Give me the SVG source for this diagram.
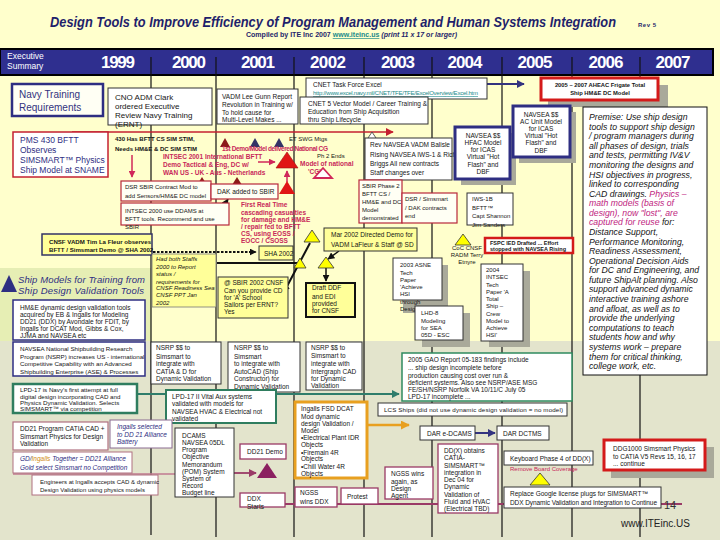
<svg xmlns="http://www.w3.org/2000/svg" width="720" height="540" viewBox="0 0 720 540">
<defs>
<style>
text{font-family:"Liberation Sans",Arial,Helvetica,sans-serif;font-size:6.5px;fill:#151515}
.b{fill:#fff;stroke:#333;stroke-width:1}
.nv{fill:#fff;stroke:#2E2E82;stroke-width:3}
.nv1{fill:#fff;stroke:#2E2E82;stroke-width:1.5}
.rd{fill:#FFFFF4;stroke:#B8283A;stroke-width:1.2}
.rt{fill:#fff;stroke:#D41A1A;stroke-width:3}
.yl{fill:#FFFF99;stroke:#333;stroke-width:1}
.gr{fill:#fff;stroke:#2F7D5F;stroke-width:2}
.mr{fill:#fff;stroke:#9A3A66;stroke-width:1.3}
.sh{fill:#A9A99A}
.pk{fill:#C8285A;font-weight:bold}
.ty{fill:#FFFF00;stroke:#333;stroke-width:0.8}
.yr{font-size:17px;font-weight:bold;fill:#fff;text-anchor:middle}
.dv{stroke:#111;stroke-width:1.2}
.it{font-style:italic}
.nvt{fill:#2E2E82}
</style>
<marker id="ak" viewBox="0 0 10 10" refX="9" refY="5" markerWidth="7" markerHeight="7" markerUnits="userSpaceOnUse" orient="auto-start-reverse"><path d="M0,0 L10,5 L0,10 z" fill="#111"/></marker>
<marker id="an" viewBox="0 0 10 10" refX="9" refY="5" markerWidth="8" markerHeight="8" markerUnits="userSpaceOnUse" orient="auto"><path d="M0,0 L10,5 L0,10 z" fill="#333380"/></marker>
<marker id="ar" viewBox="0 0 10 10" refX="9" refY="5" markerWidth="8" markerHeight="8" markerUnits="userSpaceOnUse" orient="auto"><path d="M0,0 L10,5 L0,10 z" fill="#C42030"/></marker>
<marker id="ap" viewBox="0 0 10 10" refX="9" refY="5" markerWidth="7" markerHeight="7" markerUnits="userSpaceOnUse" orient="auto"><path d="M0,0 L10,5 L0,10 z" fill="#D0285A"/></marker>
<marker id="at" viewBox="0 0 10 10" refX="9" refY="5" markerWidth="8" markerHeight="8" markerUnits="userSpaceOnUse" orient="auto"><path d="M0,0 L10,5 L0,10 z" fill="#2F7D6B"/></marker>
<marker id="ao" viewBox="0 0 10 10" refX="9" refY="5" markerWidth="9" markerHeight="9" markerUnits="userSpaceOnUse" orient="auto"><path d="M0,0 L10,5 L0,10 z" fill="#E8A020"/></marker>
<marker id="am" viewBox="0 0 10 10" refX="9" refY="5" markerWidth="8" markerHeight="8" markerUnits="userSpaceOnUse" orient="auto"><path d="M0,0 L10,5 L0,10 z" fill="#9A3A66"/></marker>
</defs>

<!-- background -->
<rect width="720" height="540" fill="#FFFFCC"/>
<rect y="341" width="720" height="199" fill="#E3E4CC"/>
<rect y="268" width="151" height="73" fill="#E6EEB4"/>

<!-- title -->
<g id="title">
<text x="50" y="27" textLength="566" lengthAdjust="spacingAndGlyphs" style="fill:#1F1F6B;font-size:14px;font-weight:bold;font-style:italic">Design Tools to Improve Efficiency of Program Management and Human Systems Integration</text>
<text x="638" y="27" style="font-size:6px;font-weight:bold;fill:#1F1F6B" textLength="18">Rev 5</text>
<text x="246" y="37" style="font-size:6.8px;font-weight:bold;fill:#1F1F6B" textLength="211" lengthAdjust="spacingAndGlyphs">Compiled by ITE Inc 2007 <tspan fill="#1A8A8A" text-decoration="underline">www.iteinc.us</tspan><tspan font-style="italic"> (print 11 x 17 or larger)</tspan></text>
</g>

<!-- header bar -->
<g id="header">
<rect x="0" y="49" width="713" height="26" fill="#2F2F8F" stroke="#000" stroke-width="2"/>
<text x="7" y="59" style="font-size:8.5px;fill:#fff">Executive</text>
<text x="7" y="69" style="font-size:8.5px;fill:#fff">Summary</text>
<text class="yr" x="118" y="68" textLength="34">1999</text>
<text class="yr" x="189" y="68" textLength="34">2000</text>
<text class="yr" x="258" y="68" textLength="34">2001</text>
<text class="yr" x="328" y="68" textLength="36">2002</text>
<text class="yr" x="398" y="68" textLength="34">2003</text>
<text class="yr" x="465" y="68" textLength="35">2004</text>
<text class="yr" x="535" y="68" textLength="35">2005</text>
<text class="yr" x="606" y="68" textLength="35">2006</text>
<text class="yr" x="673" y="68" textLength="35">2007</text>
</g>

<!-- year dividers -->
<g id="dividers" class="dv">
<line x1="151" y1="57" x2="151" y2="535"/>
<line x1="216" y1="57" x2="216" y2="537"/>
<line x1="294" y1="57" x2="294" y2="537"/>
<line x1="364" y1="57" x2="364" y2="537"/>
<line x1="432" y1="57" x2="432" y2="537"/>
<line x1="502" y1="57" x2="502" y2="537"/>
<line x1="572" y1="57" x2="572" y2="537"/>
<line x1="640" y1="57" x2="640" y2="537"/>
</g>

<!-- connectors -->
<g id="connectors" fill="none">
<path d="M487,84 H524" stroke="#333380" stroke-width="2" marker-end="url(#an)"/>
<path d="M72,132 H393" stroke="#C42030" stroke-width="1.5" marker-end="url(#ar)"/>
<path d="M132,155 V177" stroke="#D0285A" stroke-width="1.5" marker-end="url(#ap)"/>
<path d="M258,162 H275" stroke="#D0285A" stroke-width="1.5" marker-end="url(#ap)"/>
<path d="M287,182 V171" stroke="#D0285A" stroke-width="1.5" marker-end="url(#ap)"/>
<path d="M219,214 L228,199" stroke="#111" stroke-width="1.5" marker-start="url(#ak)" marker-end="url(#ak)"/>
<path d="M153,252 H256" stroke="#111" stroke-width="2" stroke-dasharray="2.5 1.5" marker-end="url(#ak)"/>
<path d="M217,263 H297" stroke="#111" stroke-width="2"/>
<path d="M310,243 L284,292" stroke="#111" stroke-width="2" marker-end="url(#ak)"/>
<path d="M339,251 L328,259" stroke="#111" stroke-width="1.5" marker-end="url(#ak)"/>
<path d="M326,268 V281" stroke="#111" stroke-width="1.5" marker-end="url(#ak)"/>
<path d="M137,394 H399" stroke="#2F7D6B" stroke-width="2" marker-end="url(#at)"/>
<path d="M13,474 H175" stroke="#C07A90" stroke-width="1.5"/>
<path d="M234,473 H256" stroke="#9A3A66" stroke-width="1.8" marker-end="url(#am)"/>
<path d="M285,504 H682" stroke="#9A3A66" stroke-width="2"/>
<path d="M367,425 H409" stroke="#E8A020" stroke-width="2.5" marker-end="url(#ao)"/>
<path d="M475,433 H495" stroke="#333380" stroke-width="2" marker-end="url(#an)"/>
</g>

<!-- milestone triangles -->
<g id="milestones">
<path d="M225,138 L220,147 L230,147 Z" fill="#8B1A1A"/>
<path d="M255,138 L250,147 L260,147 Z" fill="#333366"/>
<path d="M279,138 L274,147 L284,147 Z" fill="#333366"/>
<path d="M287,152 L276,168 L298,168 Z" fill="#E01515" stroke="#A01010" stroke-width="0.6"/>
<path d="M287,181 L279,194 L295,194 Z" fill="#E01515"/>
<path d="M323,168 L314,178 L332,178 Z" fill="#fff" stroke="#D0285A" stroke-width="1.8"/>
<path d="M372,132 L366,141 L378,141 Z" fill="#fff" stroke="#333" stroke-width="0.8"/>
<path d="M202,177 L197,185 L207,185 Z" fill="#8B1A1A"/>
<path d="M237,177 L232,185 L242,185 Z" fill="#8B1A1A"/>
<path class="ty" d="M312,230 L304,242 L320,242 Z"/>
<path class="ty" d="M300,258 L294,268 L306,268 Z"/>
<path class="ty" d="M326,257 L318,268 L334,268 Z"/>
<path class="ty" d="M463,234 L455,245 L471,245 Z"/>
<path class="ty" d="M540,473 L530,485 L550,485 Z"/>
<path d="M267,463 L257,478 L277,478 Z" fill="#8B2060"/>
<path d="M9,275 L1,292 L17,292 Z" fill="#2E2E82"/>
</g>

<g id="n-navy-training">
<rect x="12" y="84" width="91" height="32" fill="#FFFFF4" stroke="#2E2E82" stroke-width="2.5"/>
<text x="19" y="98" style="font-size:10px;fill:#333380">Navy Training</text>
<text x="19" y="111" style="font-size:10px;fill:#333380">Requirements</text>
</g>

<g id="n-cno">
<rect class="b" x="108" y="88" width="104" height="37"/>
<text x="115" y="100" style="font-size:8px">CNO ADM Clark</text>
<text x="115" y="109" style="font-size:8px">ordered Executive</text>
<text x="115" y="118" style="font-size:8px">Review Navy Training</text>
<text x="115" y="127" style="font-size:8px">(ERNT)</text>
</g>

<g id="n-gunn">
<rect class="b" x="217" y="89" width="81" height="35"/>
<text x="222" y="99">VADM Lee Gunn Report</text>
<text x="222" y="107">Revolution in Training w/</text>
<text x="222" y="115">To hold cause for</text>
<text x="222" y="122">Multi-Level Makes ...</text>
</g>

<g id="n-cnet-tfe">
<rect class="b" x="306" y="78" width="181" height="21"/>
<text x="313" y="87">CNET  Task Force Excel</text>
<text x="313" y="95" style="fill:#1A8A8A;font-size:6px" text-decoration="underline" textLength="165">http://www.excel.navy.mil/CNET/TFE/TFE/ExcelOverview/Excel.htm</text>
</g>

<g id="n-cnet-5v">
<rect class="b" x="300" y="97" width="128" height="27"/>
<text x="308" y="106">CNET 5 Vector Model / Career Training &amp;</text>
<text x="308" y="114">Education from Ship Acquisition</text>
<text x="308" y="122">thru Ship Lifecycle</text>
</g>

<g id="n-aheac">
<rect class="sh" x="548" y="85" width="120" height="22"/>
<rect class="rt" x="541" y="78" width="117" height="22"/>
<text x="600" y="87" text-anchor="middle" style="font-size:5.8px;font-weight:bold">2005 – 2007 AHEAC Frigate Total</text>
<text x="600" y="95" text-anchor="middle" style="font-size:5.8px;font-weight:bold">Ship HM&amp;E DC Model</text>
</g>

<g id="n-pms430">
<rect x="13" y="132" width="95" height="45" fill="#fff" stroke="#C42030" stroke-width="1.5"/>
<text x="20" y="143" style="font-size:8.5px;fill:#2E2E82">PMS 430 BFTT</text>
<text x="20" y="153" style="font-size:8.5px;fill:#2E2E82">Observes</text>
<text x="20" y="163" style="font-size:8.5px;fill:#2E2E82">SIMSMART™ Physics</text>
<text x="20" y="173" style="font-size:8.5px;fill:#2E2E82">Ship Model at SNAME</text>
</g>

<g id="n-430-notes">
<text x="115" y="141" style="font-size:6px;font-weight:bold">430 Has BFTT CS SIM STIM,</text>
<text x="115" y="151" style="font-size:6px;font-weight:bold">Needs HM&amp;E &amp; DC SIM STIM</text>
<text class="pk" x="163" y="159">INTSEC 2001 International BFTT</text>
<text class="pk" x="163" y="167">Demo Tactical &amp; Eng, DC w/</text>
<text class="pk" x="163" y="175">WAN US - UK - Aus - Netherlands</text>
</g>

<g id="n-demo-notes">
<text x="289" y="141" style="font-size:6px">ET SWG Mtgs</text>
<text class="pk" x="222" y="151" textLength="106">1st Demo/Model delivered National CG</text>
<text x="317" y="158" style="font-size:6px">Ph 2 Ends</text>
<text class="pk" x="300" y="166">Model of national</text>
<text class="pk" x="308" y="174">'CG'</text>
</g>

<g id="n-balisle">
<rect class="b" x="365" y="138" width="87" height="42"/>
<text x="370" y="147">Rev NAVSEA VADM Balisle</text>
<text x="370" y="157">Rising NAVSEA IWS-1 &amp; Rich</text>
<text x="370" y="166">Briggs All new contracts</text>
<text x="370" y="175">Staff changes over</text>
</g>

<g id="n-hfac">
<rect class="sh" x="461" y="133" width="55" height="52"/>
<rect class="nv" x="455" y="127" width="55" height="52"/>
<g text-anchor="middle">
<text x="483" y="138">NAVSEA $$</text>
<text x="483" y="145">HFAC Model</text>
<text x="483" y="152">for ICAS</text>
<text x="483" y="159">Virtual "Hot</text>
<text x="483" y="167">Flash" and</text>
<text x="483" y="174">DBF</text>
</g>
</g>

<g id="n-acunit">
<rect class="sh" x="519" y="112" width="57" height="51"/>
<rect class="nv" x="513" y="106" width="57" height="51"/>
<g text-anchor="middle">
<text x="541" y="117">NAVSEA $$</text>
<text x="541" y="124">AC Unit Model</text>
<text x="541" y="131">for ICAS</text>
<text x="541" y="138">Virtual "Hot</text>
<text x="541" y="145">Flash" and</text>
<text x="541" y="153">DBF</text>
</g>
</g>

<g id="n-premise">
<rect x="583" y="107" width="124" height="268" fill="#fff" stroke="#111" stroke-width="1"/>
<g class="it">
<text x="589" y="120" style="font-size:8.7px">Premise: Use ship design</text>
<text x="589" y="129.6" style="font-size:8.7px">tools to support ship design</text>
<text x="589" y="139.2" style="font-size:8.7px">/ program managers during</text>
<text x="589" y="148.7" style="font-size:8.7px">all phases of design, trials</text>
<text x="589" y="158.3" style="font-size:8.7px">and tests, permitting IV&amp;V</text>
<text x="589" y="167.9" style="font-size:8.7px">monitoring the designs and</text>
<text x="589" y="177.5" style="font-size:8.7px">HSI objectives in progress,</text>
<text x="589" y="187.1" style="font-size:8.7px">linked to corresponding</text>
<text x="589" y="196.6" style="font-size:8.7px">CAD drawings. <tspan fill="#C0247E">Physics –</tspan></text>
<text x="589" y="206.2" style="font-size:8.7px;fill:#C0247E">math models (basis of</text>
<text x="589" y="215.8" style="font-size:8.7px;fill:#C0247E">design), now "lost", are</text>
<text x="589" y="225.4" style="font-size:8.7px"><tspan fill="#C0247E">captured for reuse</tspan> for:</text>
<text x="589" y="235" style="font-size:8.7px">Distance Support,</text>
<text x="589" y="244.5" style="font-size:8.7px">Performance Monitoring,</text>
<text x="589" y="254.1" style="font-size:8.7px">Readiness Assessment,</text>
<text x="589" y="263.7" style="font-size:8.7px">Operational Decision Aids</text>
<text x="589" y="273.3" style="font-size:8.7px">for DC and Engineering, and</text>
<text x="589" y="282.9" style="font-size:8.7px">future ShipAlt planning. Also</text>
<text x="589" y="292.4" style="font-size:8.7px">support advanced dynamic</text>
<text x="589" y="302" style="font-size:8.7px">interactive training ashore</text>
<text x="589" y="311.6" style="font-size:8.7px">and afloat, as well as to</text>
<text x="589" y="321.2" style="font-size:8.7px">provide the underlying</text>
<text x="589" y="330.8" style="font-size:8.7px">computations to teach</text>
<text x="589" y="340.3" style="font-size:8.7px">students how and why</text>
<text x="589" y="349.9" style="font-size:8.7px">systems work – prepare</text>
<text x="589" y="359.5" style="font-size:8.7px">them for critical thinking,</text>
<text x="589" y="369.1" style="font-size:8.7px">college work, etc.</text>
</g>
</g>

<g id="n-dsr-sbir">
<rect class="rd" x="121" y="181" width="90" height="20"/>
<text x="125" y="189" style="font-size:6px">DSR SBIR Contract Mod to</text>
<text x="125" y="198" style="font-size:6px">add Sensors/HM&amp;E DC model</text>
</g>

<g id="n-dak">
<rect class="rd" x="211" y="184" width="67" height="15"/>
<text x="217" y="194">DAK added to SBIR</text>
</g>

<g id="n-intsec2000">
<rect class="rd" x="121" y="203" width="108" height="22"/>
<text x="125" y="213" style="font-size:6px">INTSEC 2000 use DDAMS at</text>
<text x="125" y="221" style="font-size:6px">BFTT tools. Recommend and use</text>
<text x="125" y="229" style="font-size:6px">SBIR</text>
</g>

<g id="n-realtime">
<text class="pk" x="241" y="207">First Real Time</text>
<text class="pk" x="241" y="215">cascading casualties</text>
<text class="pk" x="241" y="222">for damage and HM&amp;E</text>
<text class="pk" x="241" y="229">/ repair fed to BFTT</text>
<text class="pk" x="241" y="236">CS, using EOSS /</text>
<text class="pk" x="241" y="243">EOCC / CSOSS</text>
</g>

<g id="n-lafleur-obs">
<rect x="42" y="234" width="110" height="21" fill="#FFFF99" stroke="#333366" stroke-width="1.5"/>
<text x="49" y="244" style="font-weight:bold;font-size:6.1px">CNSF VADM Tim La Fleur observes</text>
<text x="49" y="252" style="font-weight:bold;font-size:6.1px">BFTT / Simsmart Demo @ SHA 2002</text>
</g>

<g id="n-sha2002">
<rect class="yl" x="259" y="246" width="34" height="14"/>
<text x="264" y="256">SHA 2002</text>
</g>

<g id="n-staffs">
<rect x="152" y="254" width="64" height="53" fill="#FFFF99" stroke="#777" stroke-width="0.8"/>
<g class="it">
<text x="156" y="261" style="font-size:6px">Had both Staffs</text>
<text x="156" y="269" style="font-size:6px">2000 to Report</text>
<text x="156" y="276" style="font-size:6px">status /</text>
<text x="156" y="284" style="font-size:6px">requirements for</text>
<text x="156" y="290" style="font-size:6px">CNSF Readiness Sea</text>
<text x="156" y="297" style="font-size:6px">CNSF PPT Jan</text>
<text x="156" y="305" style="font-size:6px">2002</text>
</g>
</g>

<g id="n-sbir-cnsf">
<rect class="yl" x="218" y="277" width="70" height="41"/>
<text x="224" y="285">@ SBIR 2002 CNSF</text>
<text x="224" y="293">Can you provide CD</text>
<text x="224" y="300">for 'A' School</text>
<text x="224" y="307">Sailors per ERNT?</text>
<text x="224" y="314">Yes</text>
</g>

<g id="n-mar2002">
<rect class="yl" x="324" y="228" width="93" height="23"/>
<text x="331" y="237">Mar 2002 Directed Demo for</text>
<text x="331" y="247">VADM LaFleur &amp; Staff @ SD</text>
</g>

<g id="n-draft-ddf">
<rect x="306" y="283" width="49" height="34" fill="#FFFF99" stroke="#111" stroke-width="2"/>
<text x="312" y="290">Draft DDF</text>
<text x="312" y="299">and EDI</text>
<text x="312" y="306">provided</text>
<text x="312" y="313">for CNSF</text>
</g>

<g id="n-sbir-ph2">
<rect class="rd" x="359" y="180" width="43" height="43"/>
<text x="362" y="188" style="font-size:6px">SBIR Phase 2</text>
<text x="362" y="196" style="font-size:6px">BFTT CS /</text>
<text x="362" y="204" style="font-size:6px">HM&amp;E and DC</text>
<text x="362" y="212" style="font-size:6px">Model</text>
<text x="362" y="220" style="font-size:6px">demonstrated</text>
</g>

<g id="n-dsr-end">
<rect class="rd" x="402" y="193" width="55" height="30"/>
<text x="405" y="201" style="font-size:6px">DSR / Simsmart</text>
<text x="405" y="210" style="font-size:6px">/ DAK contracts</text>
<text x="405" y="218" style="font-size:6px">end</text>
</g>

<g id="n-iws1b">
<rect class="b" x="467" y="193" width="46" height="32"/>
<text x="472" y="201" style="font-size:6px">IWS-1B</text>
<text x="472" y="210" style="font-size:6px">BFTT™</text>
<text x="472" y="218" style="font-size:6px">Capt Shannon</text>
<text x="472" y="227" style="font-size:6px">Jim Sanders</text>
</g>

<g id="n-coc">
<text x="467" y="250" text-anchor="middle" style="font-size:6px">CoC CNSF</text>
<text x="467" y="257" text-anchor="middle" style="font-size:6px">RADM Terry</text>
<text x="467" y="264" text-anchor="middle" style="font-size:6px">Etnyre</text>
</g>

<g id="n-fspc">
<rect x="485" y="238" width="88" height="15" fill="#fff" stroke="#D41A1A" stroke-width="2.5"/>
<text x="490" y="244.5" style="font-size:5.5px;font-weight:bold">FSPC IED Drafted ... Effort</text>
<text x="490" y="250.5" style="font-size:5.5px;font-weight:bold">stopped with NAVSEA Rising</text>
</g>

<g id="n-asne">
<rect class="sh" x="403" y="265" width="45" height="48"/>
<rect class="b" x="393" y="258" width="49" height="42"/>
<text x="400" y="267" style="font-size:6px">2003 ASNE</text>
<text x="400" y="275" style="font-size:6px">Tech</text>
<text x="400" y="282" style="font-size:6px">Paper</text>
<text x="400" y="289" style="font-size:6px">'Achieve</text>
<text x="400" y="296" style="font-size:6px">HSI</text>
<text x="400" y="304" style="font-size:6px">through</text>
<text x="400" y="311" style="font-size:6px">Design'</text>
</g>

<g id="n-lhd8">
<rect class="sh" x="422" y="313" width="48" height="34"/>
<rect class="b" x="415" y="306" width="48" height="34"/>
<text x="421" y="315" style="font-size:6px">LHD-8</text>
<text x="421" y="323" style="font-size:6px">Modeling</text>
<text x="421" y="330" style="font-size:6px">for SEA</text>
<text x="421" y="337" style="font-size:6px">05D - ESC</text>
</g>

<g id="n-intsec2004">
<rect class="sh" x="489" y="271" width="41" height="76"/>
<rect class="b" x="481" y="264" width="42" height="77"/>
<text x="486" y="272" style="font-size:6px">2004</text>
<text x="486" y="279" style="font-size:6px">INTSEC</text>
<text x="486" y="287" style="font-size:6px">Tech</text>
<text x="486" y="294" style="font-size:6px">Paper 'A</text>
<text x="486" y="301" style="font-size:6px">Total</text>
<text x="486" y="308" style="font-size:6px">Ship –</text>
<text x="486" y="316" style="font-size:6px">Crew</text>
<text x="486" y="323" style="font-size:6px">Model to</text>
<text x="486" y="330" style="font-size:6px">Achieve</text>
<text x="486" y="337" style="font-size:6px">HSI'</text>
</g>

<g id="n-section-ship-models">
<text x="18" y="283" class="it" style="font-size:9.5px;fill:#2E2E82" textLength="127">Ship Models for Training from</text>
<text x="18" y="294" class="it" style="font-size:9.5px;fill:#2E2E82" textLength="126">Ship Design Validation Tools</text>
</g>

<g id="n-hme-tools">
<rect class="nv1" x="13" y="300" width="132" height="40"/>
<text x="20" y="310">HM&amp;E dynamic design validation tools</text>
<text x="20" y="317">acquired by EB &amp; Ingalls for Modeling</text>
<text x="20" y="324">DD21 (DDX) by Avondale for FDIT, by</text>
<text x="20" y="331">Ingalls for DCAT Mod, Gibbs &amp; Cox,</text>
<text x="20" y="338">JJMA and NAVSEA etc</text>
</g>

<g id="n-nsrp">
<rect class="nv1" x="13" y="342" width="132" height="34"/>
<text x="20" y="351" style="font-size:6.2px">NAVSEA National Shipbuilding Research</text>
<text x="20" y="359" style="font-size:6.2px">Program (NSRP) increases US - international</text>
<text x="20" y="366" style="font-size:6.2px">Competitive Capability with an Advanced</text>
<text x="20" y="374" style="font-size:6.2px">Shipbuilding Enterprise (ASE) &amp; Processes</text>
</g>

<g id="n-nsrp-catia">
<rect class="b" x="151" y="342" width="70" height="42"/>
<text x="156" y="350">NSRP $$ to</text>
<text x="156" y="359">Simsmart to</text>
<text x="156" y="366">integrate with</text>
<text x="156" y="374">CATIA &amp; D for</text>
<text x="156" y="381">Dynamic Validation</text>
</g>

<g id="n-nsrp-autocad">
<rect class="b" x="228" y="342" width="72" height="50"/>
<text x="234" y="350">NSRP $$ to</text>
<text x="234" y="359">Simsmart</text>
<text x="234" y="366">to integrate with</text>
<text x="234" y="374">AutoCAD (Ship</text>
<text x="234" y="381">Constructor) for</text>
<text x="234" y="389">Dynamic Validation</text>
</g>

<g id="n-nsrp-intergraph">
<rect class="b" x="306" y="342" width="56" height="48"/>
<text x="311" y="350">NSRP $$ to</text>
<text x="311" y="358">Simsmart to</text>
<text x="311" y="366">integrate with</text>
<text x="311" y="374">Intergraph CAD</text>
<text x="311" y="381">for Dynamic</text>
<text x="311" y="388">Validation</text>
</g>

<g id="n-gao">
<rect x="402" y="353" width="170" height="48" fill="#fff" stroke="#2F8B5F" stroke-width="1.5"/>
<text x="408" y="362">2005 GAO Report 05-183 findings include</text>
<text x="408" y="370">... ship design incomplete before</text>
<text x="408" y="378">production causing cost over run &amp;</text>
<text x="408" y="385">deficient systems. Also see NSRP/ASE MSG</text>
<text x="408" y="392">FE/SH/NSRP Norfolk VA 10/11/C July 05</text>
<text x="408" y="399">LPD-17 incomplete ...</text>
</g>

<g id="n-lpd17">
<rect x="13" y="384" width="124" height="29" fill="#fff" stroke="#2F7D5F" stroke-width="2.5"/>
<text x="20" y="392" style="font-size:6.2px">LPD-17 is Navy's first attempt at full</text>
<text x="20" y="399" style="font-size:6.2px">digital design incorporating CAD and</text>
<text x="20" y="405" style="font-size:6.2px">Physics Dynamic Validation. Selects</text>
<text x="20" y="411" style="font-size:6.2px">SIMSMART™ via competition</text>
</g>

<g id="n-lpd17-ii">
<rect class="gr" x="166" y="390" width="110" height="33"/>
<text x="172" y="399">LPD-17 II Vital Aux systems</text>
<text x="172" y="406">validated with models for</text>
<text x="172" y="414">NAVSEA HVAC &amp; Electrical not</text>
<text x="172" y="421">validated</text>
</g>

<g id="n-dd21-program">
<rect x="13" y="422" width="95" height="28" fill="#fff" stroke="#B07080" stroke-width="1.2"/>
<text x="20" y="431">DD21 Program CATIA CAD +</text>
<text x="20" y="439">Simsmart Physics for Design</text>
<text x="20" y="446">Validation</text>
</g>

<g id="n-ingalls-sel">
<rect x="110" y="420" width="62" height="28" fill="#fff" stroke="#8A6A90" stroke-width="1"/>
<g class="it">
<text x="117" y="429" style="fill:#2E2E82">Ingalls selected</text>
<text x="117" y="437" style="fill:#2E2E82">to DD 21 Alliance</text>
<text x="117" y="444" style="fill:#2E2E82">Battery</text>
</g>
</g>

<g id="n-gd-ingalls">
<rect x="13" y="452" width="119" height="21" fill="#fff" stroke="#B07080" stroke-width="1"/>
<text x="20" y="461" class="it" style="fill:#2E2E82"><tspan>GD/</tspan><tspan fill="#D08A10">Ingalls</tspan><tspan> Together = DD21 Alliance</tspan></text>
<text x="20" y="470" class="it" style="fill:#2E2E82">Gold select Simsmart no Competition</text>
</g>

<g id="n-engineers">
<rect x="32" y="475" width="126" height="20" fill="#fff" stroke="#B07080" stroke-width="1"/>
<text x="40" y="484" style="font-size:6px">Engineers at Ingalls accepts CAD &amp; dynamic</text>
<text x="40" y="492" style="font-size:6px">Design Validation using physics models</text>
</g>

<g id="n-dcams">
<rect class="b" x="175" y="428" width="59" height="69"/>
<text x="182" y="438">DCAMS</text>
<text x="182" y="445">NAVSEA 05DL</text>
<text x="182" y="452">Program</text>
<text x="182" y="459">Objective</text>
<text x="182" y="467">Memorandum</text>
<text x="182" y="474">(POM) System</text>
<text x="182" y="481">System of</text>
<text x="182" y="488">Record</text>
<text x="182" y="495">Budget line</text>
</g>

<g id="n-dd21-demo">
<rect class="mr" x="240" y="444" width="46" height="15"/>
<text x="247" y="454">DD21 Demo</text>
</g>

<g id="n-ddx-starts">
<rect class="mr" x="240" y="493" width="45" height="14"/>
<text x="247" y="501">DDX</text>
<text x="247" y="509">Starts</text>
</g>

<g id="n-ingalls-fsd">
<rect x="295" y="402" width="72" height="76" fill="#fff" stroke="#E8A020" stroke-width="3"/>
<text x="301" y="411">Ingalls FSD DCAT</text>
<text x="301" y="419">Mod dynamic</text>
<text x="301" y="426">design Validation /</text>
<text x="301" y="433">Model</text>
<text x="301" y="440">•Electrical Plant IDR</text>
<text x="301" y="447">Objects</text>
<text x="301" y="455">•Firemain 4R</text>
<text x="301" y="461">Objects</text>
<text x="301" y="469">•Chill Water 4R</text>
<text x="301" y="476">Objects</text>
</g>

<g id="n-lcs">
<rect class="b" x="378" y="403" width="189" height="13"/>
<text x="384" y="412" textLength="179" style="font-size:6.2px">LCS Ships (did not use dynamic design validation = no model)</text>
</g>

<g id="n-dar-dcams">
<rect class="b" x="420" y="426" width="55" height="14"/>
<text x="427" y="436">DAR e-DCAMS</text>
</g>

<g id="n-dar-dctms">
<rect class="b" x="497" y="426" width="52" height="14"/>
<text x="503" y="436">DAR DCTMS</text>
</g>

<g id="n-ddx-obtains">
<rect class="mr" x="438" y="444" width="60" height="69"/>
<text x="444" y="453">DD(X) obtains</text>
<text x="444" y="460">CATIA-</text>
<text x="444" y="468">SIMSMART™</text>
<text x="444" y="475">integration in</text>
<text x="444" y="482">Dec 04 for</text>
<text x="444" y="489">Dynamic</text>
<text x="444" y="497">Validation of</text>
<text x="444" y="504">Fluid and HVAC</text>
<text x="444" y="511">(Electrical TBD)</text>
</g>

<g id="n-ngss-again">
<rect class="mr" x="385" y="467" width="48" height="32"/>
<text x="391" y="476">NGSS wins</text>
<text x="391" y="484">again, as</text>
<text x="391" y="491">Design</text>
<text x="391" y="498">Agent</text>
</g>

<g id="n-ngss-ddx">
<rect class="mr" x="295" y="487" width="42" height="20"/>
<text x="300" y="495">NGSS</text>
<text x="300" y="504">wins DDX</text>
</g>

<g id="n-protest">
<rect class="mr" x="341" y="488" width="37" height="16"/>
<text x="347" y="499">Protest</text>
</g>

<g id="n-keyboard">
<rect class="b" x="504" y="451" width="89" height="14"/>
<text x="510" y="461">Keyboard Phase 4 of DD(X)</text>
<text x="510" y="471" style="font-size:6px;fill:#C8285A">Remove Board Coverage</text>
</g>

<g id="n-replace">
<rect class="b" x="504" y="487" width="157" height="21"/>
<text x="510" y="496">Replace Google license plugs for SIMSMART™</text>
<text x="510" y="505" textLength="147">DDX Dynamic Validation and Integration to Continue</text>
</g>

<g id="n-ddg1000">
<rect class="sh" x="611" y="447" width="103" height="31"/>
<rect class="rt" x="604" y="440" width="101" height="30"/>
<text x="613" y="451">DDG1000 Simsmart Physics</text>
<text x="613" y="459">to CATIA V5 Revs 15, 16, 17</text>
<text x="613" y="466">... continue</text>
</g>

<g id="n-footer">
<text x="664" y="509" style="font-size:11px;fill:#333">14</text>
<text x="621" y="527" style="font-size:10px;fill:#222">www.ITEinc.US</text>
</g>
</svg>
